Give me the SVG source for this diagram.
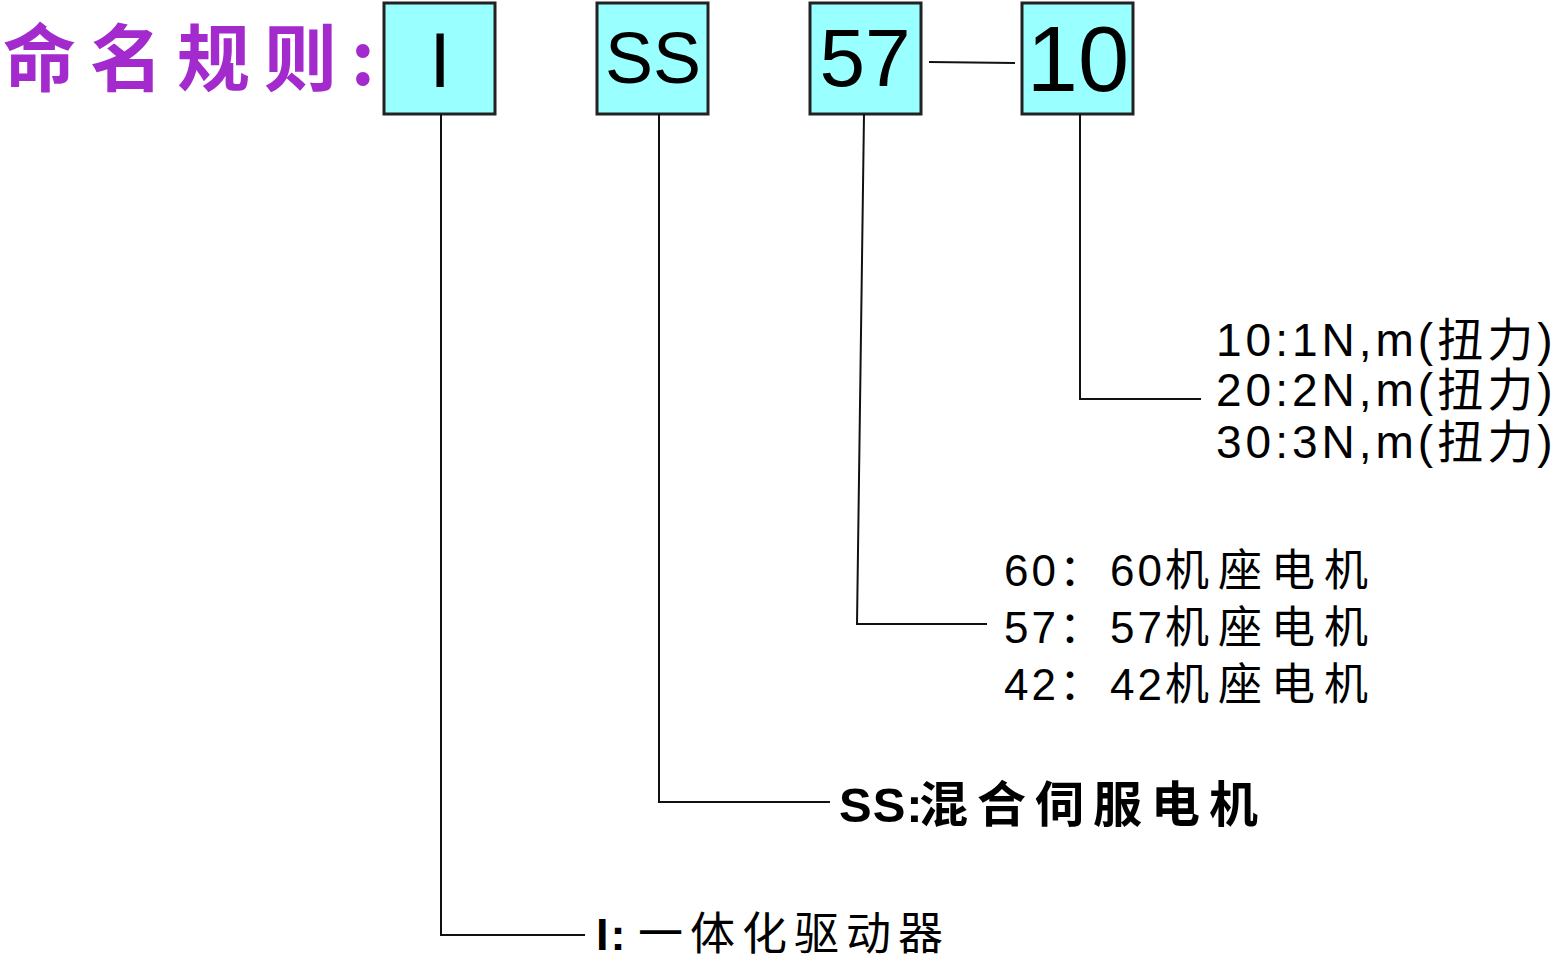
<svg xmlns="http://www.w3.org/2000/svg" width="1558" height="958" viewBox="0 0 1558 958">
<style>
.box{fill:#99FFFF;stroke:#222;stroke-width:3}
.bt{font-family:"Liberation Sans",Arial,sans-serif;fill:#000;text-anchor:middle}
.conn{fill:none;stroke:#111;stroke-width:2}
.lbl{font-family:"Liberation Sans","Noto Sans CJK SC",sans-serif;fill:#000}
.ttl{font-family:"Noto Sans CJK SC",sans-serif;font-weight:bold;fill:#A32ACC}
</style>
<rect width="1558" height="958" fill="#fff"/>
<g id="title"><text class="ttl" x="3" y="85" font-size="73" letter-spacing="14">命名规则</text><text class="ttl" x="351" y="85" font-size="73">:</text></g>
<g id="node-I"><rect class="box" x="384" y="3" width="111" height="111"/><text class="bt" x="440" y="87" font-size="78">I</text></g>
<g id="node-SS"><rect class="box" x="597" y="3" width="111" height="111"/><text class="bt" x="653" y="83" font-size="72">SS</text></g>
<g id="node-57"><rect class="box" x="810" y="3" width="111" height="111"/><text class="bt" x="865" y="86" font-size="82">57</text></g>
<g id="node-10"><rect class="box" x="1022" y="3" width="111" height="111"/><text class="bt" x="1078" y="91" font-size="92">10</text></g>
<g id="connectors">
<line class="conn" x1="929" y1="62" x2="1015" y2="63"/>
<polyline class="conn" points="441,114 441,935 585,935"/>
<polyline class="conn" points="659,114 659,802 830,802"/>
<polyline class="conn" points="864,114 857,624 987,624"/>
<polyline class="conn" points="1080,114 1080,399 1201,399"/>
</g>
<g id="label-I"><text class="lbl" x="596" y="950" font-size="45"><tspan font-weight="bold" letter-spacing="2">I:</tspan><tspan x="638" letter-spacing="7">一体化驱动器</tspan></text></g>
<g id="label-SS"><text class="lbl" x="839" y="822" font-size="49" font-weight="bold"><tspan letter-spacing="1">SS:</tspan><tspan x="919" letter-spacing="9">混合伺服电机</tspan></text></g>
<g id="label-57" class="lbl" font-size="44">
<text x="1004" y="586"><tspan letter-spacing="3">60：</tspan><tspan x="1110" letter-spacing="3">60</tspan><tspan letter-spacing="9">机座电机</tspan></text>
<text x="1004" y="643"><tspan letter-spacing="3">57：</tspan><tspan x="1110" letter-spacing="3">57</tspan><tspan letter-spacing="9">机座电机</tspan></text>
<text x="1004" y="700"><tspan letter-spacing="3">42：</tspan><tspan x="1110" letter-spacing="3">42</tspan><tspan letter-spacing="9">机座电机</tspan></text>
</g>
<g id="label-10" class="lbl" font-size="46" letter-spacing="4">
<text x="1216" y="356">10:1N,m(扭力)</text>
<text x="1216" y="406">20:2N,m(扭力)</text>
<text x="1216" y="458">30:3N,m(扭力)</text>
</g>
</svg>
